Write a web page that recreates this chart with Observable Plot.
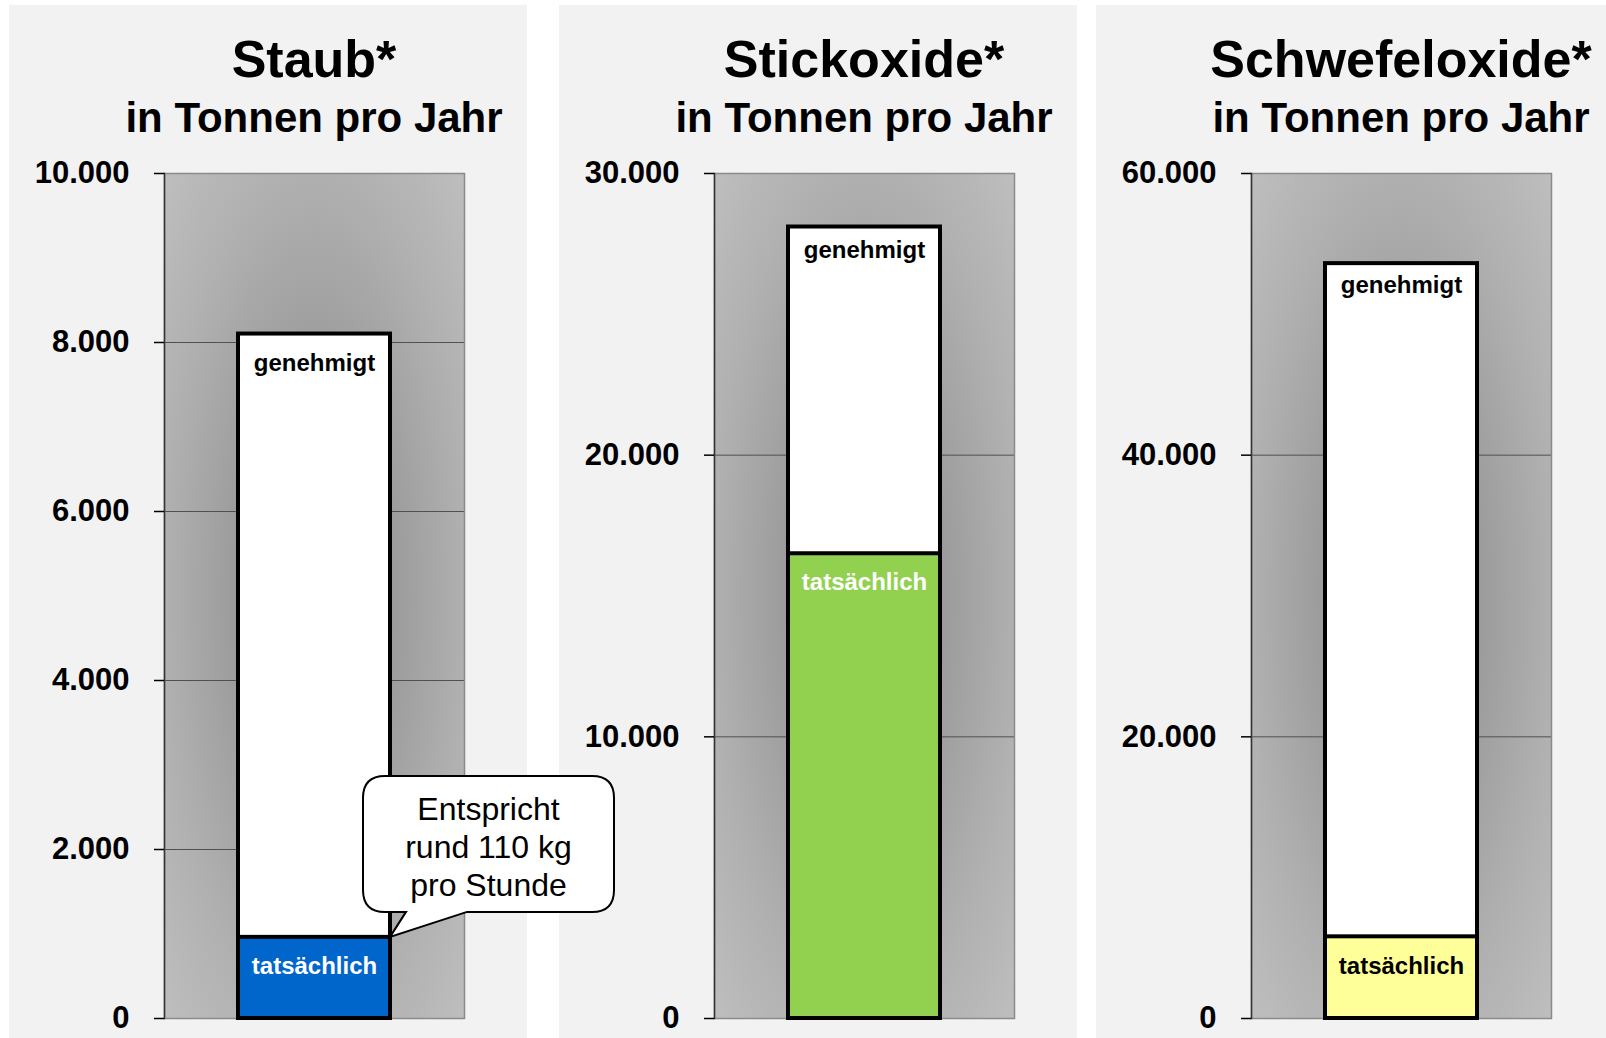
<!DOCTYPE html>
<html>
<head>
<meta charset="utf-8">
<script src="https://cdn.jsdelivr.net/npm/d3@7"></script>
<script src="https://cdn.jsdelivr.net/npm/@observablehq/plot@0.6"></script>
<style>
  html, body { margin: 0; padding: 0; background: #ffffff; }
  #root { position: relative; width: 1606px; height: 1038px; overflow: hidden; font-family: "Liberation Sans", Arial, sans-serif; }
  .panel { position: absolute; top: 5px; height: 1033px; background: #f2f2f2; }
  .header { position: relative; height: 138px; }
  .title, .subtitle { position: absolute; transform: translateX(-50%); white-space: nowrap; font-weight: bold; color: #000; }
  .title { top: 28px; font-size: 52px; line-height: 52px; }
  .subtitle { top: 92px; font-size: 42px; line-height: 42px; }
  .panel svg { display: block; }
</style>
</head>
<body>
<div id="root"></div>
<script>
// ---- data ----
const categories = ["Staub*", "Stickoxide*", "Schwefeloxide*"];
const subtitle = "in Tonnen pro Jahr";
const genehmigt = [8100, 28100, 53600];
const tatsaechlich = [960, 16500, 5800];
const barColors = ["#0066cc", "#92d050", "#ffff99"];
const labelColors = ["#ffffff", "#ffffff", "#000000"];
const labelGenehmigt = "genehmigt";
const labelTatsaechlich = "tatsächlich";
const ticksStaub = [0, 2000, 4000, 6000, 8000, 10000];
const ticksStickoxide = [0, 10000, 20000, 30000];
const ticksSchwefeloxide = [0, 20000, 40000, 60000];
const tickSets = [ticksStaub, ticksStickoxide, ticksSchwefeloxide];
const calloutLines = ["Entspricht", "rund 110 kg", "pro Stunde"];

// ---- layout ----
const panelLeft = [9, 559, 1096];
const panelWidth = [518, 518, 510];
const genehmigtDy = [29, 23, 22];
const mLeft = 155, plotW = 300;

const fmt = d3.formatLocale({decimal: ",", thousands: ".", grouping: [3], currency: ["", " €"]}).format(",d");
const root = document.getElementById("root");

categories.forEach((cat, i) => {
  const panel = document.createElement("div");
  panel.className = "panel";
  panel.style.left = panelLeft[i] + "px";
  panel.style.width = panelWidth[i] + "px";
  panel.style.zIndex = String(10 - i);

  const header = document.createElement("div");
  header.className = "header";
  const t = document.createElement("div");
  t.className = "title"; t.textContent = cat; t.style.left = (mLeft + plotW / 2) + "px";
  const s = document.createElement("div");
  s.className = "subtitle"; s.textContent = subtitle; s.style.left = (mLeft + plotW / 2) + "px";
  header.append(t, s);
  panel.append(header);

  const row = [{cat, genehmigt: genehmigt[i], tats: tatsaechlich[i]}];
  const ticks = tickSets[i];

  const chart = Plot.plot({
    width: panelWidth[i],
    height: 895,
    marginLeft: mLeft,
    marginRight: panelWidth[i] - mLeft - plotW,
    marginTop: 30,
    marginBottom: 20,
    style: {fontFamily: "'Liberation Sans', Arial, sans-serif", background: "transparent", overflow: "visible", color: "#000"},
    x: {type: "band", domain: [cat], padding: 0.327, axis: null},
    y: {domain: [0, d3.max(ticks)], axis: null},
    marks: [
      Plot.frame({fill: `url(#bg${i})`, stroke: "none"}),
      Plot.gridY(ticks, {stroke: "#505050", strokeOpacity: 1, strokeWidth: 1}),
      Plot.frame({stroke: "#8a8a8a", strokeWidth: 1.5}),
      Plot.frame({anchor: "left", stroke: "#333", strokeWidth: 1.5}),
      Plot.axisY(ticks, {tickSize: 10, tickPadding: 25, tickFormat: fmt, fontSize: 31, fontWeight: "bold", label: null, color: "#000", strokeWidth: 1.5}),
      Plot.barY(row, {x: "cat", y1: 0, y2: "genehmigt", fill: "#ffffff", stroke: "#000", strokeWidth: 4}),
      Plot.barY(row, {x: "cat", y1: 0, y2: "tats", fill: barColors[i], stroke: "#000", strokeWidth: 4}),
      Plot.text(row, {x: "cat", y: "genehmigt", text: () => labelGenehmigt, dy: genehmigtDy[i], fontSize: 24, fontWeight: "bold", fill: "#000"}),
      Plot.text(row, {x: "cat", y: "tats", text: () => labelTatsaechlich, dy: 29, fontSize: 24, fontWeight: "bold", fill: labelColors[i]})
    ]
  });

  // radial gradient for the plot background
  const svg = d3.select(chart);
  const defs = svg.insert("defs", ":first-child");
  const rg = defs.append("radialGradient").attr("id", `bg${i}`)
    .attr("cx", "50%").attr("cy", "50%").attr("r", "70.7%");
  [[0, "#888888"], [0.35, "#9a9a9a"], [0.707, "#b0b0b0"], [1, "#bebebe"]].forEach(([o, c]) =>
    rg.append("stop").attr("offset", o).attr("stop-color", c));

  // callout for Staub
  if (i === 0) {
    const sx = chart.scale("x"), sy = chart.scale("y");
    const tipX = sx.apply(cat) + sx.bandwidth;
    const tipY = sy.apply(tatsaechlich[0]);
    const L = tipX - 27, R = tipX + 224, T = tipY - 161, B = tipY - 25, r = 22;
    const b1 = tipX + 16, b2 = tipX + 77;
    const d = `M${L + r},${T} H${R - r} Q${R},${T} ${R},${T + r} V${B - r} Q${R},${B} ${R - r},${B}` +
              ` H${b2} L${tipX},${tipY} L${b1},${B} H${L + r} Q${L},${B} ${L},${B - r} V${T + r} Q${L},${T} ${L + r},${T} Z`;
    const g = svg.append("g");
    g.append("path").attr("d", d).attr("fill", "#fff").attr("stroke", "#000").attr("stroke-width", 2);
    const cx = (L + R) / 2;
    calloutLines.forEach((line, k) => {
      g.append("text").attr("x", cx).attr("y", tipY - 117 + k * 38)
        .attr("text-anchor", "middle").attr("font-size", 32).attr("fill", "#000").text(line);
    });
  }

  panel.append(chart);
  root.append(panel);
});
</script>
</body>
</html>
